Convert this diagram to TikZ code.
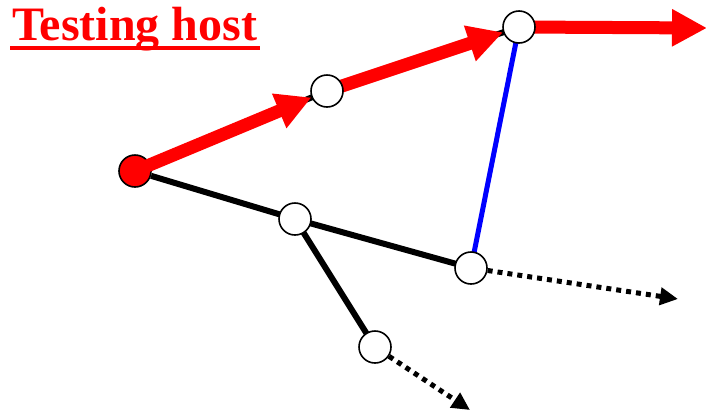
\documentclass[tikz,border=0pt]{standalone}
\usepackage{fontspec}
\setmainfont{Liberation Serif}
\usetikzlibrary{arrows.meta}
\pgfdeclarelayer{wires}
\pgfdeclarelayer{path}
\pgfsetlayers{wires,path,main}
\begin{document}
\begin{tikzpicture}[x=1pt,y=-1pt,
  hop/.style={circle,draw=black,line width=1.6pt,fill=white,minimum size=32pt,inner sep=0pt},
  origin/.style={hop,fill=red},
  link/.style={line width=6pt,black},
  bluelink/.style={line width=5pt,blue},
  route/.style={line width=13pt,red,-{Triangle[length=35pt,width=35pt]}},
  probe/.style={line width=5pt,black,dash pattern=on 5pt off 5pt,-{Triangle[length=18pt,width=17pt]}}]
\useasboundingbox (0,0) rectangle (706,413);
% title
\node[anchor=base west,inner sep=0pt,text=red,font=\fontsize{48}{50}\selectfont\bfseries] (title) at (12,40) {Testing host};
\draw[red,line width=4pt] (10,48) -- (260,48);
% routers
\node[hop] (B) at (327,91) {};
\node[hop] (C) at (519,27) {};
\node[hop] (D) at (295,219) {};
\node[hop] (E) at (471,268) {};
\node[hop] (F) at (375,347) {};
\coordinate (endR) at (707,28);
\coordinate (endE) at (678,299);
\coordinate (endF) at (470,410);
% links
\begin{pgfonlayer}{wires}
\draw[link] (B.center) -- (C.center);
\draw[link] (D.center) -- (E.center);
\draw[link] (D.center) -- (F.center);
\draw[bluelink] (C.center) -- (E.center);
\node[origin] (A) at (135,171) {};
\draw[link] (A) -- (B.center);
\draw[link] (A) -- (D.center);
\end{pgfonlayer}
% route taken by the probe
\begin{pgfonlayer}{path}
\draw[route] (A.center) -- (B);
\draw[route] (B.center) -- (C);
\draw[route] (C.center) -- (endR);
\end{pgfonlayer}
% unanswered probes
\draw[probe] (E) -- (endE);
\draw[probe] (F) -- (endF);
\end{tikzpicture}
\end{document}
